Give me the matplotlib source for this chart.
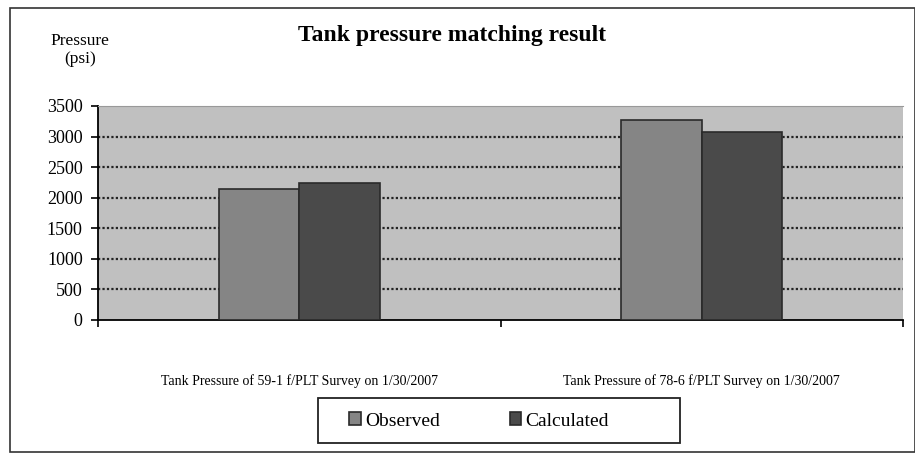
import numpy as np
import matplotlib.pyplot as plt
from matplotlib.patches import Rectangle

plt.rcParams['font.family'] = ['Liberation Serif', 'DejaVu Serif']

categories = ["Tank Pressure of 59-1 f/PLT Survey on 1/30/2007",
              "Tank Pressure of 78-6 f/PLT Survey on 1/30/2007"]
observed = [2140, 3270]
calculated = [2240, 3080]
yticks = [0, 500, 1000, 1500, 2000, 2500, 3000, 3500]

fig = plt.figure(figsize=(9.15, 4.55), dpi=100)
ax = fig.add_axes([98/915, 1 - 320/455, 805/915, 214/455])

# outer chart frame and legend box
fig.patches.append(Rectangle((10/915, 1 - 452/455), 905/915, 444/455,
                             transform=fig.transFigure, fill=False,
                             edgecolor='#333333', linewidth=1.2))
fig.patches.append(Rectangle((318/915, 1 - 443/455), 362/915, 45/455,
                             transform=fig.transFigure, fill=False,
                             edgecolor='#222222', linewidth=1.3))

x = np.arange(len(categories))
w = 0.2
ax.set_facecolor('#c0c0c0')
ax.bar(x - w/2, observed, w, color='#858585', edgecolor='#2a2a2a',
       linewidth=1.2, label='Observed', zorder=3)
ax.bar(x + w/2, calculated, w, color='#4a4a4a', edgecolor='#2a2a2a',
       linewidth=1.2, label='Calculated', zorder=3)

ax.set_xlim(-0.5, 1.5)
ax.set_ylim(0, 3500)
ax.set_yticks(yticks)
ax.set_yticklabels([str(v) for v in yticks], fontsize=13)
# dotted gridlines, none on the top edge
for v in yticks[1:-1]:
    ax.axhline(v, linestyle=(0, (1, 1)), color='#222222', linewidth=1.6, zorder=1)
ax.set_xticks([-0.5, 0.5, 1.5])
ax.set_xticklabels([])
ax.tick_params(axis='x', length=5, width=1.2, direction='out')
ax.tick_params(axis='y', length=5, width=1.2, direction='out', pad=6)
ax.spines['top'].set_color('#999999')
ax.spines['right'].set_visible(False)
ax.spines['left'].set_linewidth(1.3)
ax.spines['bottom'].set_linewidth(1.3)

for xi, lab in zip(x, categories):
    ax.annotate(lab, (xi, 0), xytext=(0, -44), textcoords='offset points',
                ha='center', va='center', fontsize=10)

fig.text(452/915, 1 - 36/455, 'Tank pressure matching result',
         ha='center', va='center', fontsize=17, fontweight='bold')
fig.text(80/915, 1 - 50/455, 'Pressure\n(psi)', ha='center', va='center',
         fontsize=12.5, linespacing=1.1)

leg = fig.legend(loc='center', bbox_to_anchor=(479/915, 1 - 421/455),
                 ncol=2, frameon=False, fontsize=14,
                 handlelength=0.6, handleheight=0.6, handletextpad=0.2,
                 columnspacing=3.6)

fig.savefig('out.png', dpi=100)
